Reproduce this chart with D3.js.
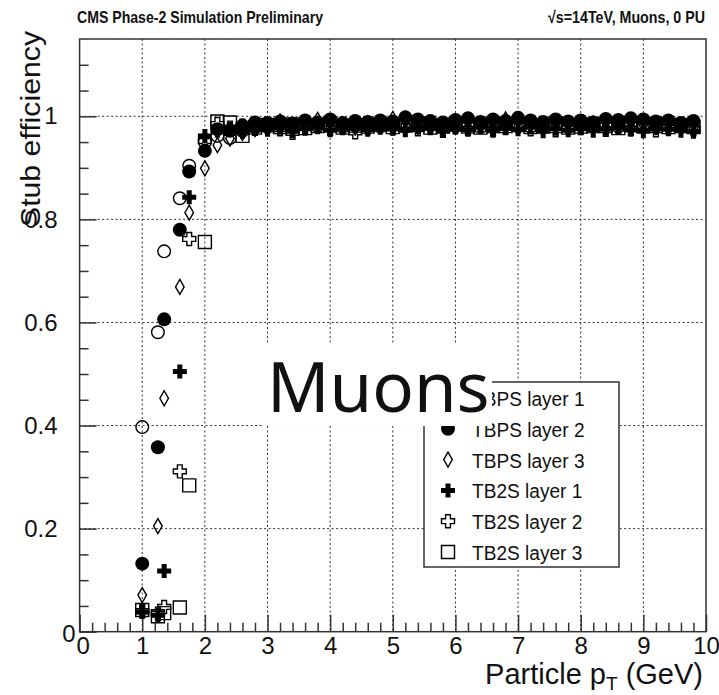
<!DOCTYPE html>
<html>
<head>
<meta charset="utf-8">
<script src="https://cdn.jsdelivr.net/npm/d3@7"></script>
<style>
  html, body { margin: 0; padding: 0; background: #fff; }
  svg { display: block; }
  text { font-family: "Liberation Sans", Arial, Helvetica, sans-serif; fill: #111; }
</style>
</head>
<body>
<svg id="chart" width="719" height="695"></svg>
<script>
// Generated particle pT (GeV) at which the stub efficiency was measured
const pT = [1.0, 1.25, 1.35, 1.6, 1.75, 2.0,
  2.2, 2.4, 2.6, 2.8,
  3.0, 3.2, 3.4, 3.6, 3.8,
  4.0, 4.2, 4.4, 4.6, 4.8,
  5.0, 5.2, 5.4, 5.6, 5.8,
  6.0, 6.2, 6.4, 6.6, 6.8,
  7.0, 7.2, 7.4, 7.6, 7.8,
  8.0, 8.2, 8.4, 8.6, 8.8,
  9.0, 9.2, 9.4, 9.6, 9.8];

const tbpsLayer1 = [0.397, 0.581, 0.738, 0.841, 0.904, 0.950,
  0.962, 0.958, 0.972, 0.978,
  0.980, 0.983, 0.978, 0.984, 0.981,
  0.983, 0.979, 0.982, 0.985, 0.980,
  0.984, 0.987, 0.981, 0.983, 0.986,
  0.981, 0.984, 0.979, 0.983, 0.986,
  0.982, 0.980, 0.985, 0.983, 0.981,
  0.984, 0.982, 0.986, 0.980, 0.983,
  0.985, 0.981, 0.984, 0.982, 0.980];

const tbpsLayer2 = [0.132, 0.358, 0.606, 0.780, 0.893, 0.933,
  0.975, 0.972, 0.982, 0.988,
  0.987, 0.990, 0.986, 0.992, 0.988,
  0.994, 0.987, 0.991, 0.989, 0.992,
  0.990, 0.998, 0.994, 0.991, 0.988,
  0.993, 0.996, 0.989, 0.994, 0.991,
  0.997, 0.992, 0.989, 0.994, 0.990,
  0.992, 0.988, 0.995, 0.993, 0.996,
  0.994, 0.990, 0.992, 0.987, 0.991];

const tbpsLayer3 = [0.071, 0.205, 0.453, 0.669, 0.813, 0.899,
  0.944, 0.957, 0.968, 0.975,
  0.979, 0.990, 0.976, 0.983, 0.993,
  0.980, 0.984, 0.978, 0.986, 0.981,
  0.995, 0.982, 0.979, 0.985, 0.980,
  0.983, 0.978, 0.986, 0.981, 0.994,
  0.980, 0.984, 0.979, 0.983, 0.985,
  0.981, 0.986, 0.978, 0.984, 0.980,
  0.983, 0.979, 0.985, 0.981, 0.978];

const tb2sLayer1 = [0.038, 0.032, 0.118, 0.505, 0.843, 0.962,
  0.972, 0.976, 0.970, 0.977,
  0.974, 0.978, 0.971, 0.976, 0.979,
  0.973, 0.977, 0.980, 0.974, 0.978,
  0.976, 0.973, 0.979, 0.977, 0.972,
  0.978, 0.974, 0.979, 0.972, 0.977,
  0.975, 0.979, 0.971, 0.976, 0.973,
  0.978, 0.972, 0.976, 0.979, 0.974,
  0.971, 0.978, 0.975, 0.972, 0.970];

const tb2sLayer2 = [0.040, 0.035, 0.048, 0.311, 0.762, 0.952,
  0.985, 0.978, 0.982, 0.976,
  0.980, 0.975, 0.968, 0.979, 0.982,
  0.976, 0.980, 0.969, 0.978, 0.983,
  0.977, 0.981, 0.975, 0.979, 0.972,
  0.980, 0.976, 0.982, 0.974, 0.978,
  0.981, 0.975, 0.979, 0.973, 0.980,
  0.977, 0.982, 0.974, 0.979, 0.976,
  0.980, 0.973, 0.978, 0.981, 0.975];

const tb2sLayer3 = [0.042, 0.030, 0.036, 0.047, 0.284, 0.756,
  0.990, 0.988, 0.962, 0.978,
  0.983, 0.979, 0.984, 0.977, 0.981,
  0.985, 0.978, 0.982, 0.980, 0.984,
  0.979, 0.983, 0.986, 0.978, 0.982,
  0.984, 0.980, 0.978, 0.985, 0.981,
  0.983, 0.979, 0.982, 0.986, 0.978,
  0.980, 0.984, 0.981, 0.977, 0.983,
  0.982, 0.985, 0.979, 0.983, 0.980];

const seriesNames = ["TBPS layer 1", "TBPS layer 2", "TBPS layer 3",
                     "TB2S layer 1", "TB2S layer 2", "TB2S layer 3"];
const seriesValues = [tbpsLayer1, tbpsLayer2, tbpsLayer3, tb2sLayer1, tb2sLayer2, tb2sLayer3];
const seriesMarkers = ["openCircle", "fullCircle", "openDiamond", "fullCross", "openCross", "openSquare"];

const xTicks = [0, 1, 2, 3, 4, 5, 6, 7, 8, 9, 10];
const yTicks = [0, 0.2, 0.4, 0.6, 0.8, 1];
const xMinorTicks = [0.2, 0.4, 0.6, 0.8, 1.2, 1.4, 1.6, 1.8, 2.2, 2.4, 2.6, 2.8, 3.2, 3.4, 3.6, 3.8,
  4.2, 4.4, 4.6, 4.8, 5.2, 5.4, 5.6, 5.8, 6.2, 6.4, 6.6, 6.8, 7.2, 7.4, 7.6, 7.8,
  8.2, 8.4, 8.6, 8.8, 9.2, 9.4, 9.6, 9.8];
const yMinorTicks = [0.05, 0.1, 0.15, 0.25, 0.3, 0.35, 0.45, 0.5, 0.55, 0.65, 0.7, 0.75,
  0.85, 0.9, 0.95, 1.05, 1.1];

const svg = d3.select("#chart");
const plot = { left: 79.6, right: 706, top: 39, bottom: 631.7 };

const x = d3.scaleLinear().domain([0, 10]).range([plot.left, plot.right]);
const y = d3.scaleLinear().domain([0, 1.15]).range([plot.bottom, plot.top]);

// dotted grid at every major tick
const grid = svg.append("g").attr("stroke", "#333").attr("stroke-width", 1)
  .attr("stroke-dasharray", "2,2.5");
grid.selectAll("line.gx").data(xTicks.filter(d => d > 0 && d < 10)).join("line")
  .attr("x1", d => x(d)).attr("x2", d => x(d))
  .attr("y1", plot.top).attr("y2", plot.bottom);
grid.selectAll("line.gy").data(yTicks.filter(d => d > 0)).join("line")
  .attr("x1", plot.left).attr("x2", plot.right)
  .attr("y1", d => y(d)).attr("y2", d => y(d));

// axes (ticks pointing into the frame)
const axisStyle = g => {
  g.select(".domain").remove();
  g.selectAll(".tick line").attr("stroke", "#333").attr("stroke-width", 1.5);
  g.selectAll(".tick text").attr("font-size", 24).attr("fill", "#111")
    .attr("font-family", "'Liberation Sans', Arial, sans-serif");
};

svg.append("g").attr("transform", `translate(${plot.left},0)`)
  .call(d3.axisLeft(y).tickValues(yTicks).tickSize(-17).tickSizeOuter(0).tickPadding(22)
    .tickFormat(d => d === 0 ? "0" : (d === 1 ? "1" : d3.format(".1f")(d))))
  .call(axisStyle)
  .call(g => g.selectAll(".tick text").filter(d => d === 0).attr("x", -4).attr("dy", "0.42em"));
svg.append("g").attr("transform", `translate(${plot.left},0)`)
  .call(d3.axisLeft(y).tickValues(yMinorTicks).tickSize(-9).tickSizeOuter(0).tickFormat(""))
  .call(axisStyle);

svg.append("g").attr("transform", `translate(0,${plot.bottom})`)
  .call(d3.axisBottom(x).tickValues(xTicks).tickSize(-17).tickSizeOuter(0).tickPadding(5)
    .tickFormat(d3.format("d")))
  .call(axisStyle)
  .call(g => g.selectAll(".tick text").filter(d => d === 0).attr("x", 3));
svg.append("g").attr("transform", `translate(0,${plot.bottom})`)
  .call(d3.axisBottom(x).tickValues(xMinorTicks).tickSize(-9).tickSizeOuter(0).tickFormat(""))
  .call(axisStyle);

// frame
svg.append("rect")
  .attr("x", plot.left).attr("y", plot.top)
  .attr("width", plot.right - plot.left).attr("height", plot.bottom - plot.top)
  .attr("fill", "none").attr("stroke", "#333").attr("stroke-width", 1.5);

// marker shapes
const crossPath = (a, t) =>
  `M${-t},${-a}H${t}V${-t}H${a}V${t}H${t}V${a}H${-t}V${t}H${-a}V${-t}H${-t}Z`;
const markerDefs = {
  openCircle:  { d: d3.symbol(d3.symbolCircle, Math.PI * 6.3 * 6.3)(), fill: "none", stroke: "#000" },
  fullCircle:  { d: d3.symbol(d3.symbolCircle, Math.PI * 7 * 7)(), fill: "#000", stroke: "none" },
  openDiamond: { d: "M0,-7.5L4.3,0L0,7.5L-4.3,0Z", fill: "none", stroke: "#000" },
  fullCross:   { d: crossPath(7, 2.5), fill: "#000", stroke: "none" },
  openCross:   { d: crossPath(6.5, 2.4), fill: "none", stroke: "#000" },
  openSquare:  { d: "M-6.5,-6.5H6.5V6.5H-6.5Z", fill: "none", stroke: "#000" }
};
const drawMarker = (sel, kind) => {
  const m = markerDefs[kind];
  sel.attr("d", m.d).attr("fill", m.fill).attr("stroke", m.stroke)
    .attr("stroke-width", m.stroke === "none" ? 0 : 1.4);
};

// data points
seriesValues.forEach((vals, i) => {
  svg.append("g").selectAll("path").data(pT.map((p, j) => [p, vals[j]])).join("path")
    .attr("transform", d => `translate(${x(d[0])},${y(d[1])})`)
    .call(drawMarker, seriesMarkers[i]);
});

// legend
const legend = { x0: 424, y0: 382, x1: 619, y1: 567 };
svg.append("rect")
  .attr("x", legend.x0).attr("y", legend.y0)
  .attr("width", legend.x1 - legend.x0).attr("height", legend.y1 - legend.y0)
  .attr("fill", "#fff").attr("stroke", "#333").attr("stroke-width", 1.5);
const rowY = d3.scaleLinear().domain([0, 5]).range([398, 552]);
seriesNames.forEach((name, i) => {
  svg.append("path").attr("transform", `translate(448,${rowY(i)})`)
    .call(drawMarker, seriesMarkers[i]);
  svg.append("text")
    .attr("transform", `translate(472,${rowY(i) + 8}) scale(0.91,1)`)
    .attr("font-size", 21).text(name);
});

// titles
svg.append("text").attr("x", 77).attr("y", 23).attr("font-size", 17).attr("font-weight", "bold")
  .attr("textLength", 246).attr("lengthAdjust", "spacingAndGlyphs")
  .text("CMS Phase-2 Simulation Preliminary");
svg.append("text").attr("x", 548).attr("y", 23).attr("font-size", 17).attr("font-weight", "bold")
  .attr("textLength", 157).attr("lengthAdjust", "spacingAndGlyphs")
  .text("√s=14TeV, Muons, 0 PU");

svg.append("text")
  .attr("transform", `translate(40,${plot.top - 8}) rotate(-90)`)
  .attr("text-anchor", "end").attr("font-size", 28)
  .attr("textLength", 196).attr("lengthAdjust", "spacingAndGlyphs")
  .text("Stub efficiency");

const xTitle = svg.append("text").attr("x", 703).attr("y", 684)
  .attr("text-anchor", "end").attr("font-size", 29);
xTitle.append("tspan").text("Particle p");
xTitle.append("tspan").attr("font-size", 19).attr("dy", 6).text("T");
xTitle.append("tspan").attr("dy", -6).text(" (GeV)");

// overlay label
svg.append("rect").attr("x", 262).attr("y", 344).attr("width", 230).attr("height", 82).attr("fill", "#fff");
svg.append("text").attr("x", 267).attr("y", 411.5)
  .attr("font-size", 69)
  .style("font-family", "'Noto Sans', 'Open Sans', sans-serif")
  .attr("fill", "#000").text("Muons");
</script>
</body>
</html>
